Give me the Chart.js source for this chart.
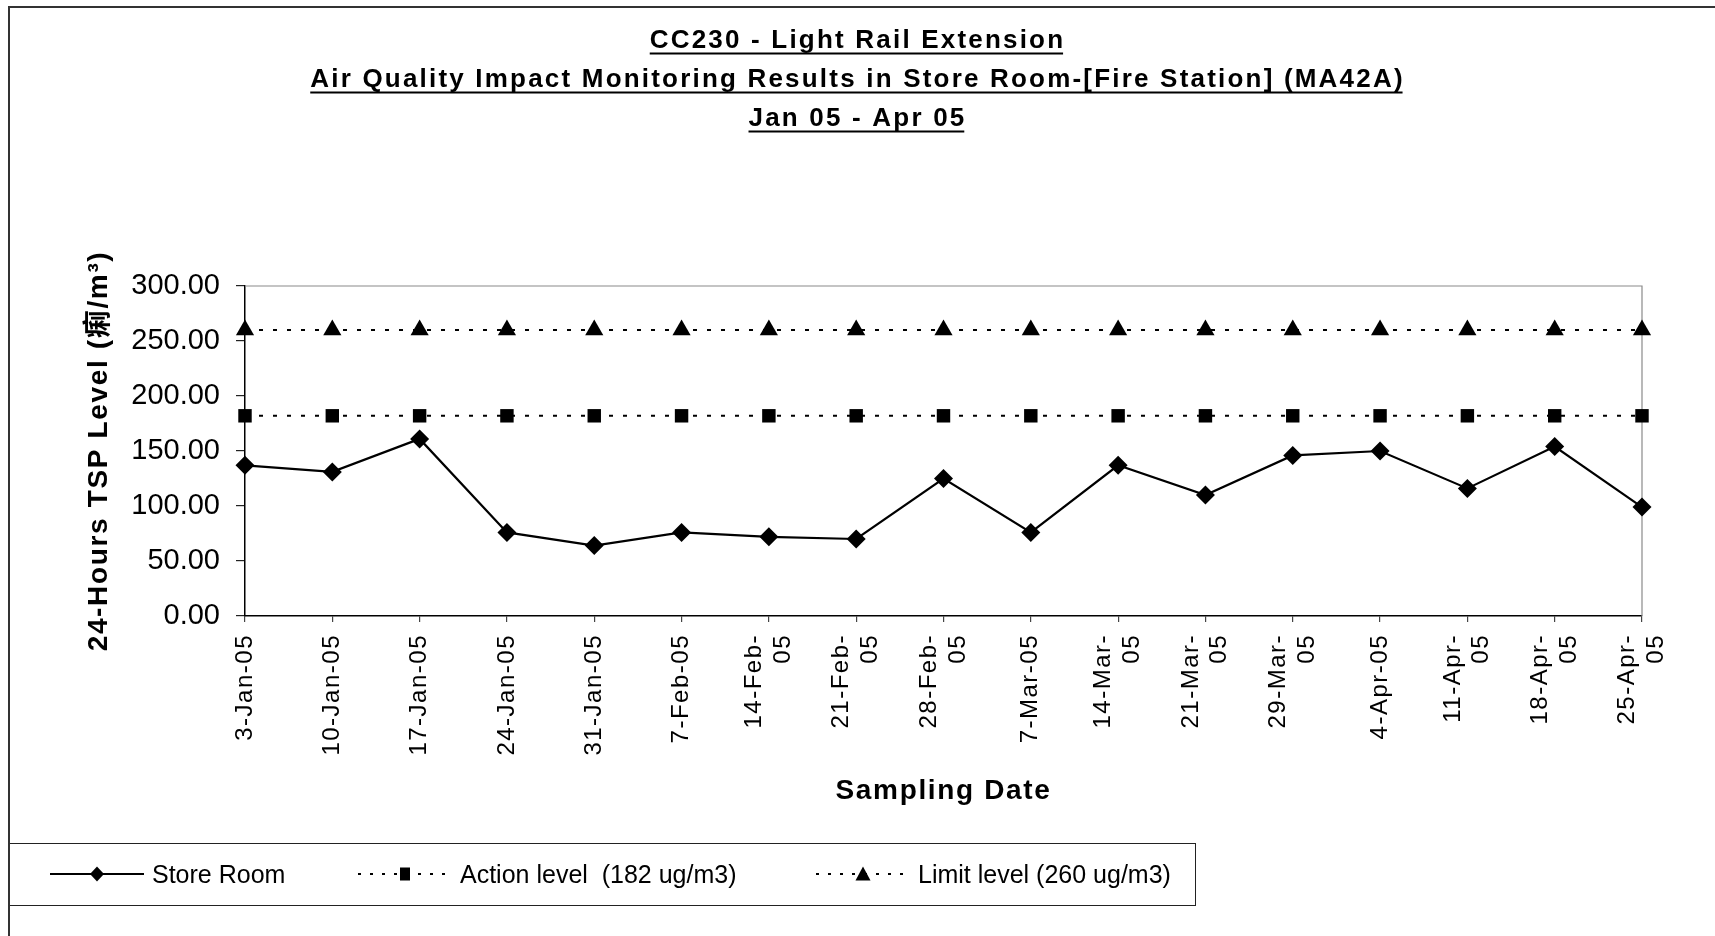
<!DOCTYPE html>
<html>
<head>
<meta charset="utf-8">
<script src="https://cdn.jsdelivr.net/npm/chart.js@4.4.1/dist/chart.umd.min.js"></script>
<style>
html,body{margin:0;padding:0;background:#fff;}
body{width:1715px;height:936px;position:relative;overflow:hidden;font-family:'Liberation Sans',Arial,sans-serif;}
#frame{position:absolute;left:8px;top:6px;width:1800px;height:1000px;border-left:2px solid #333;border-top:2px solid #333;box-sizing:border-box;}
#chart{position:absolute;left:0;top:0;}
#legend{position:absolute;left:10px;top:843px;width:1186px;height:63px;border-top:1.5px solid #222;border-right:1.5px solid #222;border-bottom:1.5px solid #222;box-sizing:border-box;}
.item{position:absolute;top:0;height:60px;display:flex;align-items:center;font-size:25px;white-space:pre;color:#000;}
.item svg{margin-right:8px;}
</style>
</head>
<body>
<div id="frame"></div>
<canvas id="chart" width="1715" height="936"></canvas>
<div id="legend"></div>
<script>
// ---------- data ----------
const categories = ['3-Jan-05','10-Jan-05','17-Jan-05','24-Jan-05','31-Jan-05','7-Feb-05','14-Feb-05','21-Feb-05','28-Feb-05','7-Mar-05','14-Mar-05','21-Mar-05','29-Mar-05','4-Apr-05','11-Apr-05','18-Apr-05','25-Apr-05'];
const tickLabels = [['3-Jan-05'],['10-Jan-05'],['17-Jan-05'],['24-Jan-05'],['31-Jan-05'],['7-Feb-05'],['14-Feb-','05'],['21-Feb-','05'],['28-Feb-','05'],['7-Mar-05'],['14-Mar-','05'],['21-Mar-','05'],['29-Mar-','05'],['4-Apr-05'],['11-Apr-','05'],['18-Apr-','05'],['25-Apr-','05']];
const storeRoom   = [137, 131, 161, 76, 64, 76, 72, 70, 125, 76, 137, 110, 146, 150, 116, 154, 99];
const actionLevel = [182, 182, 182, 182, 182, 182, 182, 182, 182, 182, 182, 182, 182, 182, 182, 182, 182];
const limitLevel  = [260, 260, 260, 260, 260, 260, 260, 260, 260, 260, 260, 260, 260, 260, 260, 260, 260];
const seriesNames = ['Store Room', 'Action level  (182 ug/m3)', 'Limit level (260 ug/m3)'];
const titleLines  = ['CC230 - Light Rail Extension', 'Air Quality Impact Monitoring Results in Store Room-[Fire Station] (MA42A)', 'Jan 05 - Apr 05'];
const yTitle = '24-Hours TSP Level (痢/m³)';
const xTitle = 'Sampling Date';

const FAM = "'Liberation Sans', Arial, 'Noto Sans CJK SC', sans-serif";

// ---------- text letter spacing (per font size) ----------
const canvas = document.getElementById('chart');
const ctx = canvas.getContext('2d');
const spacingBySize = {'26': 2.2, '28': 1.65, '24': 1.5};
function applySpacing(c){
  const m = /(\d+(?:\.\d+)?)px/.exec(c.font);
  const s = m ? (spacingBySize[m[1]] || 0) : 0;
  if ('letterSpacing' in c) c.letterSpacing = s + 'px';
}
const _fill = ctx.fillText;
ctx.fillText = function(){ applySpacing(this); return _fill.apply(this, arguments); };
const _meas = ctx.measureText;
ctx.measureText = function(){ applySpacing(this); return _meas.apply(this, arguments); };

// ---------- plugins ----------
const framePlugin = {
  id: 'frameLines',
  beforeDatasetsDraw(chart){
    const a = chart.chartArea, c = chart.ctx;
    c.save();
    c.strokeStyle = '#8a8a8a'; c.lineWidth = 1.2;
    c.beginPath(); c.moveTo(a.left, a.top); c.lineTo(a.right, a.top); c.lineTo(a.right, a.bottom); c.stroke();
    c.restore();
  }
};
const centerMultiLine = {
  id: 'centerMultiLine',
  beforeDraw(chart){
    const s = chart.scales.x;
    const items = s.getLabelItems(chart.chartArea);
    items.forEach(it => {
      if (!it._c && Array.isArray(it.label) && it.label.length > 1) {
        it.textOffset -= (it.label.length - 1) * it.font.lineHeight / 2;
        it._c = true;
      }
    });
  }
};
const TITLE_PAD_TOP = 21, TITLE_LH = 39, TITLE_SIZE = 26;
const underlinePlugin = {
  id: 'titleUnderline',
  afterDraw(chart){
    const tb = chart.titleBlock; if (!tb) return;
    const c = chart.ctx;
    c.save();
    c.font = "bold " + TITLE_SIZE + "px " + FAM;
    c.strokeStyle = '#000'; c.lineWidth = 2;
    const cx = (tb.left + tb.right) / 2;
    titleLines.forEach((t, i) => {
      const w = c.measureText(t).width - 2.2;
      const y = tb.top + TITLE_PAD_TOP + TITLE_LH * i + TITLE_LH / 2 + 13;
      c.beginPath(); c.moveTo(cx - w / 2 - 1.1, y); c.lineTo(cx + w / 2 - 1.1, y); c.stroke();
    });
    c.restore();
  }
};

// ---------- chart ----------
new Chart(ctx, {
  type: 'line',
  data: {
    labels: categories,
    datasets: [
      { label: seriesNames[0], data: storeRoom, borderColor: '#000', backgroundColor: '#000', borderWidth: 2.2,
        pointStyle: 'rectRot', pointRadius: 9.5, pointBorderWidth: 0, pointBackgroundColor: '#000', clip: false, tension: 0 },
      { label: seriesNames[1], data: actionLevel, borderColor: '#000', backgroundColor: '#000', borderWidth: 2, borderDash: [4, 10],
        pointStyle: 'rect', pointRadius: 9.5, pointBorderWidth: 0, pointBackgroundColor: '#000', clip: false },
      { label: seriesNames[2], data: limitLevel, borderColor: '#000', backgroundColor: '#000', borderWidth: 2, borderDash: [4, 10],
        pointStyle: 'triangle', pointRadius: 10.5, pointBorderWidth: 0, pointBackgroundColor: '#000', clip: false }
    ]
  },
  options: {
    responsive: false,
    animation: false,
    devicePixelRatio: 1,
    layout: { padding: { left: 73, right: 73, top: 0, bottom: 128 } },
    plugins: {
      legend: { display: false },
      tooltip: { enabled: false },
      title: {
        display: true, text: titleLines, color: '#000',
        font: { family: FAM, size: TITLE_SIZE, weight: 'bold', lineHeight: TITLE_LH / TITLE_SIZE },
        padding: { top: TITLE_PAD_TOP, bottom: 148 }
      }
    },
    scales: {
      x: {
        type: 'category', offset: false,
        ticks: { autoSkip: false, minRotation: 90, maxRotation: 90, color: '#000', padding: 12,
                 font: { family: FAM, size: 24 }, callback: (v, i) => tickLabels[i] },
        grid: { drawOnChartArea: false, drawTicks: true, tickLength: 6, color: '#444', lineWidth: 1.2 },
        border: { color: '#000', width: 1.5 },
        title: { display: true, text: xTitle, color: '#000', font: { family: FAM, size: 28, weight: 'bold' }, padding: { top: 0, bottom: 0 } },
        afterFit(s){ s.height = 192; }
      },
      y: {
        min: 0, max: 300,
        ticks: { stepSize: 50, color: '#000', padding: 16, font: { family: FAM, size: 29 }, callback: v => Number(v).toFixed(2) },
        grid: { drawOnChartArea: false, drawTicks: true, tickLength: 9, color: '#222', lineWidth: 1.2 },
        border: { color: '#000', width: 1.5 },
        title: { display: true, text: yTitle, color: '#000', font: { family: FAM, size: 28, weight: 'bold' }, padding: { top: 9, bottom: 0 } },
        afterFit(s){ s.width = 172; }
      }
    }
  },
  plugins: [framePlugin, centerMultiLine, underlinePlugin]
});

// ---------- legend (HTML) ----------
const legendPos = [40, 348, 806];
const markers = [
  '<polygon points="40,10 47,2.5 54,10 47,17.5" fill="#000"/>',
  '<rect x="42" y="3.5" width="10" height="13" fill="#000"/>',
  '<polygon points="47,2.5 54.5,16.5 39.5,16.5" fill="#000"/>'
];
const dashes = ['', '3 9', '3 9'];
const legend = document.getElementById('legend');
seriesNames.forEach((name, i) => {
  const d = document.createElement('div');
  d.className = 'item';
  d.style.left = legendPos[i] + 'px';
  d.innerHTML = '<svg width="94" height="20" viewBox="0 0 94 20"><line x1="0" y1="10" x2="94" y2="10" stroke="#000" stroke-width="2"' +
    (dashes[i] ? ' stroke-dasharray="' + dashes[i] + '"' : '') + '/>' + markers[i] + '</svg>';
  const s = document.createElement('span');
  s.textContent = name;
  d.appendChild(s);
  legend.appendChild(d);
});
</script>
</body>
</html>
